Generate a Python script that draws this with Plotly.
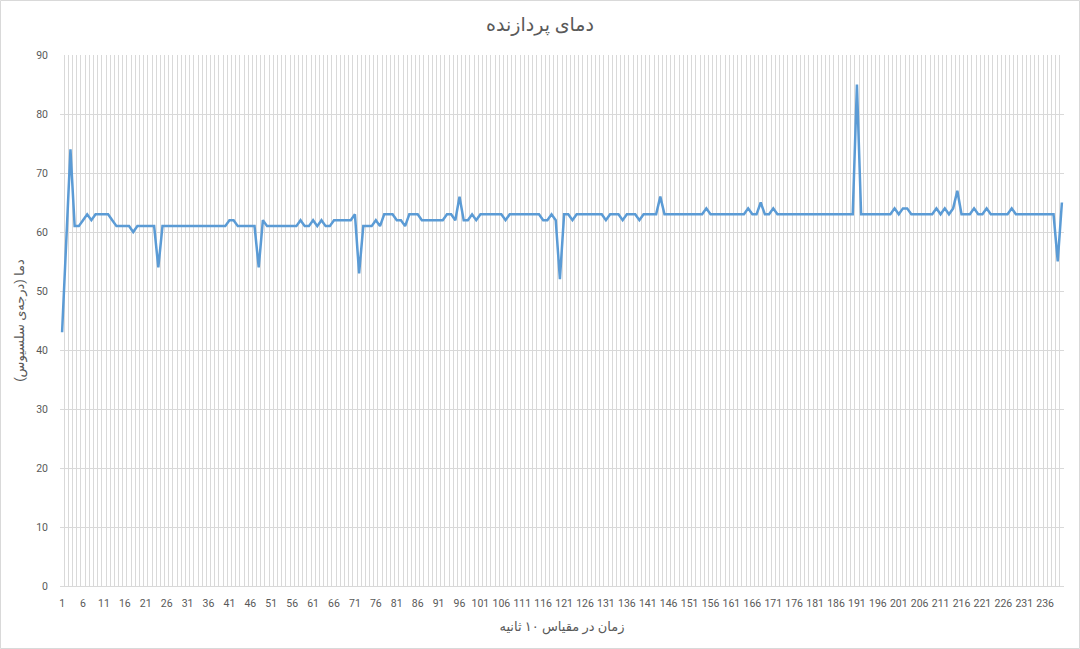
import plotly.graph_objects as go

# داده‌ها (خوانده‌شده از نمودار)
samples = list(range(1, 241))

temp_1_60 = [43, 60, 74, 61, 61, 62, 63, 62, 63, 63, 63, 63, 62, 61, 61, 61, 61, 60, 61, 61,
             61, 61, 61, 54, 61, 61, 61, 61, 61, 61, 61, 61, 61, 61, 61, 61, 61, 61, 61, 61,
             62, 62, 61, 61, 61, 61, 61, 54, 62, 61, 61, 61, 61, 61, 61, 61, 61, 62, 61, 61]
temp_61_120 = [62, 61, 62, 61, 61, 62, 62, 62, 62, 62, 63, 53, 61, 61, 61, 62, 61, 63, 63, 63,
               62, 62, 61, 63, 63, 63, 62, 62, 62, 62, 62, 62, 63, 63, 62, 66, 62, 62, 63, 62,
               63, 63, 63, 63, 63, 63, 62, 63, 63, 63, 63, 63, 63, 63, 63, 62, 62, 63, 62, 52]
temp_121_180 = [63, 63, 62, 63, 63, 63, 63, 63, 63, 63, 62, 63, 63, 63, 62, 63, 63, 63, 62, 63,
                63, 63, 63, 66, 63, 63, 63, 63, 63, 63, 63, 63, 63, 63, 64, 63, 63, 63, 63, 63,
                63, 63, 63, 63, 64, 63, 63, 65, 63, 63, 64, 63, 63, 63, 63, 63, 63, 63, 63, 63]
temp_181_240 = [63, 63, 63, 63, 63, 63, 63, 63, 63, 63, 85, 63, 63, 63, 63, 63, 63, 63, 63, 64,
                63, 64, 64, 63, 63, 63, 63, 63, 63, 64, 63, 64, 63, 64, 67, 63, 63, 63, 64, 63,
                63, 64, 63, 63, 63, 63, 63, 64, 63, 63, 63, 63, 63, 63, 63, 63, 63, 63, 55, 65]
temperature = temp_1_60 + temp_61_120 + temp_121_180 + temp_181_240

chart_title = "دمای پردازنده"
x_title = "زمان در مقیاس ۱۰ ثانیه"
y_title = "دما (درجه‌ی سلسیوس)"

W, H = 1080, 649
ML, MR, MT, MB = 60, 16, 55, 63
grid = "#d9d9d9"
txt = "#595959"
font_family = "Roboto, DejaVu Sans, sans-serif"

fig = go.Figure(go.Scatter(
    x=samples, y=temperature, mode="lines",
    line=dict(color="#5b9bd5", width=2.5),
    hoverinfo="x+y",
))

fig.update_xaxes(
    range=[0.5, 240.5], tickmode="linear", tick0=1, dtick=5, tickangle=0,
    showgrid=False, zeroline=False, automargin=False,
    showline=True, linecolor=grid, linewidth=1,
    ticks="", ticklabelstandoff=7,
    tickfont=dict(family=font_family, size=10.5, color=txt),
    minor=dict(tick0=0.5, dtick=1, showgrid=True, gridcolor=grid, gridwidth=1, ticks=""),
    title=dict(text=x_title, font=dict(family=font_family, size=13, color=txt), standoff=13),
)
fig.update_yaxes(
    range=[0, 90], tickmode="linear", tick0=0, dtick=10,
    showgrid=True, gridcolor=grid, gridwidth=1, zeroline=False, automargin=False,
    ticks="", ticklabelstandoff=11,
    tickfont=dict(family=font_family, size=10.5, color=txt),
    title=dict(text=y_title, font=dict(family=font_family, size=13, color=txt), standoff=8),
)

pw = W - ML - MR
ph = H - MT - MB
# قاب دور نمودار
fig.add_shape(type="rect", xref="paper", yref="paper",
              x0=(0.5 - ML) / pw, x1=(W - 0.5 - ML) / pw,
              y0=-(MB - 0.5) / ph, y1=1 + (MT - 0.5) / ph,
              line=dict(color=grid, width=1), fillcolor="rgba(0,0,0,0)", layer="below")

fig.update_layout(
    width=W, height=H,
    margin=dict(l=ML, r=MR, t=MT, b=MB, pad=0, autoexpand=False),
    paper_bgcolor="white", plot_bgcolor="white",
    showlegend=False,
    title=dict(text=chart_title, x=0.5, xref="container", xanchor="center",
               y=1 - 24 / H, yref="container", yanchor="middle",
               font=dict(family=font_family, size=19, color=txt)),
)

fig.write_html("out.html", config={"displayModeBar": False},
               post_script="document.body.style.margin='0';")
